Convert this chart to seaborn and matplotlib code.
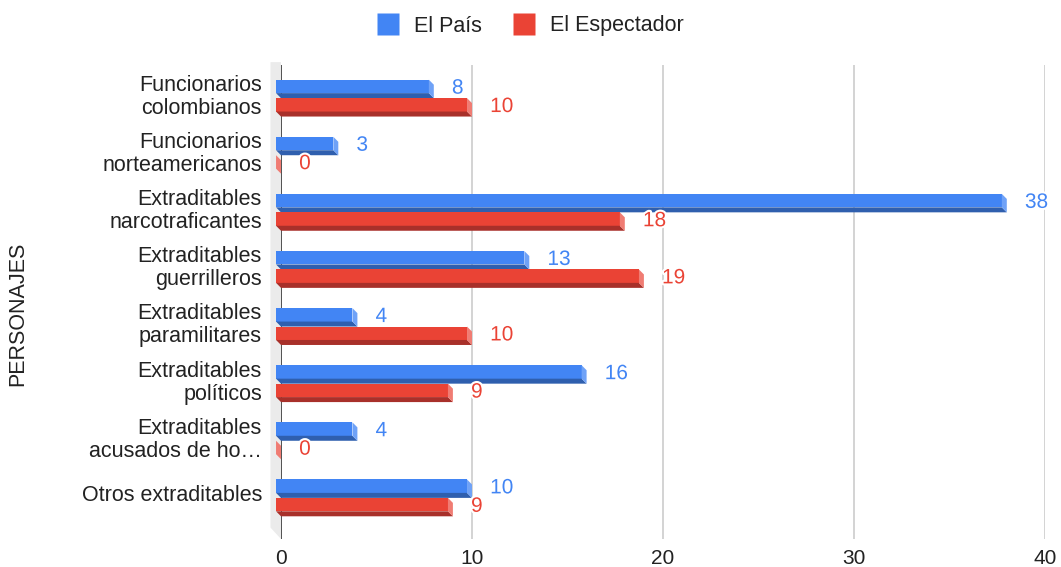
import matplotlib
matplotlib.use("Agg")
import matplotlib.pyplot as plt
import matplotlib.patheffects as pe
from matplotlib.patches import Polygon, Rectangle
from matplotlib.lines import Line2D
import seaborn as sns
import pandas as pd

categories = [
    "Funcionarios\ncolombianos",
    "Funcionarios\nnorteamericanos",
    "Extraditables\nnarcotraficantes",
    "Extraditables\nguerrilleros",
    "Extraditables\nparamilitares",
    "Extraditables\npolíticos",
    "Extraditables\nacusados de ho…",
    "Otros extraditables",
]
el_pais = [8, 3, 38, 13, 4, 16, 4, 10]
el_espectador = [10, 0, 18, 19, 10, 9, 0, 9]
series = ["El País", "El Espectador"]
colors = {"El País": "#4285F4", "El Espectador": "#EA4335"}
dark = {"El País": "#2F5FAE", "El Espectador": "#A8302A"}
light = {"El País": "#6FA2F7", "El Espectador": "#F07C73"}

df = pd.DataFrame({
    "categoria": categories * 2,
    "medio": [series[0]] * len(categories) + [series[1]] * len(categories),
    "valor": el_pais + el_espectador,
})

sns.set_style("white")
plt.rcParams["font.family"] = ["Liberation Sans", "DejaVu Sans"]

fig = plt.figure(figsize=(10.61, 5.67), dpi=100)
ax = fig.add_axes([281 / 1061, 1 - 539 / 567, (1045 - 281) / 1061, 474 / 567])

sns.barplot(data=df, y="categoria", x="valor", hue="medio", hue_order=series,
            palette=colors, orient="h", width=0.645, ax=ax, legend=False,
            linewidth=0, saturation=1)

ax.set_xlim(0, 40)
ax.set_ylim(7.8, -0.5)

# 3D look like the Google chart: front face, dark bottom, light side
dx = 0.26
dy = 0.0875
shift = 0.08
for cont, name in zip(ax.containers, series):
    for bar in cont:
        v = bar.get_width()
        y0 = bar.get_y() + shift
        h = bar.get_height()
        hf = h - dy
        bar.set_visible(False)
        ax.add_patch(Rectangle((-dx, y0), v, hf, facecolor=colors[name],
                               edgecolor="none", zorder=3, clip_on=False))
        ax.add_patch(Polygon([(-dx, y0 + hf), (v - dx, y0 + hf), (v, y0 + h), (0, y0 + h)],
                             closed=True, facecolor=dark[name], edgecolor="none",
                             zorder=3, clip_on=False))
        ax.add_patch(Polygon([(v - dx, y0), (v, y0 + dy), (v, y0 + h), (v - dx, y0 + hf)],
                             closed=True, facecolor=light[name], edgecolor="none",
                             zorder=3, clip_on=False))
        txt = ax.text(v + 0.95, y0 + hf / 2 + 0.03, f"{int(v)}", color=colors[name],
                      fontsize=15, va="center", ha="left", zorder=5, clip_on=False)
        txt.set_path_effects([pe.withStroke(linewidth=3, foreground="white")])

# back wall strip on the left
ax.add_patch(Polygon([(-0.55, -0.55), (0, -0.55), (0, 7.8), (-0.55, 7.6)], closed=True,
                     facecolor="#EBEBEB", edgecolor="none", zorder=0, clip_on=False))

for x in [10, 20, 30, 40]:
    ax.axvline(x, color="#CCCCCC", lw=1.2, zorder=1)
ax.axvline(0, color="#333333", lw=1.2, zorder=2)

for s in ax.spines.values():
    s.set_visible(False)

ax.set_xticks([0, 10, 20, 30, 40])
ax.tick_params(axis="x", length=0, pad=7, labelsize=15, labelcolor="#222222")
ax.tick_params(axis="y", length=0, pad=13.7, labelsize=15.5, labelcolor="#222222")
for lbl in ax.get_yticklabels():
    lbl.set_linespacing(1.12)
ax.set_xlabel("")
ax.set_ylabel("")

fig.text(18 / 1061, 1 - 314 / 567, "PERSONAJES", rotation=90, fontsize=15.5,
         color="#222222", ha="center", va="center")

handles = [Line2D([0], [0], marker="s", color="none", markerfacecolor=colors[s],
                  markeredgecolor="none", markersize=16) for s in series]
fig.legend(handles, series, loc="center", bbox_to_anchor=(0.5, 1 - 26 / 567), ncol=2,
           frameon=False, fontsize=15.5, handletextpad=0.7, columnspacing=1.5,
           handlelength=1.0, labelcolor="#222222")

fig.savefig("out.png", dpi=100)
